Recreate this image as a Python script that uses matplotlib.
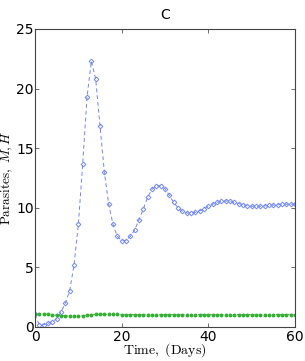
import matplotlib
matplotlib.use("Agg")
import matplotlib.pyplot as plt
import numpy as np

days = list(range(0, 61))
M_vals = [1.05, 0.15, 0.2, 0.3, 0.45, 0.7, 1.25, 2.0, 3.05, 5.2,
          8.6, 13.65, 19.3, 22.3, 20.8, 16.85, 13.0, 10.3, 8.6, 7.6,
          7.25, 7.25, 7.6, 8.15, 9.0, 9.9, 10.9, 11.55, 11.85, 11.85,
          11.6, 11.05, 10.45, 10.0, 9.7, 9.57, 9.55, 9.62, 9.75, 9.93,
          10.12, 10.3, 10.45, 10.55, 10.57, 10.53, 10.45, 10.35, 10.25, 10.17,
          10.13, 10.12, 10.13, 10.16, 10.2, 10.23, 10.26, 10.28, 10.3, 10.3, 10.3]
H_vals = [1.08, 1.12, 1.1, 1.06, 1.02, 0.98, 0.95, 0.93, 0.92, 0.92,
          0.93, 0.96, 0.99, 1.02, 1.05, 1.06, 1.06, 1.06, 1.05, 1.05,
          1.04, 1.04, 1.04, 1.04, 1.04, 1.04, 1.04, 1.04, 1.04, 1.04,
          1.04, 1.04, 1.04, 1.04, 1.04, 1.04, 1.04, 1.04, 1.04, 1.04,
          1.04, 1.04, 1.04, 1.04, 1.04, 1.04, 1.04, 1.04, 1.04, 1.04,
          1.04, 1.04, 1.04, 1.04, 1.04, 1.04, 1.04, 1.04, 1.04, 1.04, 1.04]
x_ticks = [0, 20, 40, 60]
y_ticks = [0, 5, 10, 15, 20, 25]

plt.rcParams['mathtext.fontset'] = 'cm'
fig = plt.figure(figsize=(3.05, 3.61), dpi=100)
ax = fig.add_axes([0.1148, 0.0942, 0.8525, 0.8255])

ax.plot(days, M_vals, linestyle=(0, (4, 3)), color='#6f86ff', linewidth=0.7,
        marker='D', markersize=2.4, markerfacecolor='none', markeredgecolor='#6f86ff',
        markeredgewidth=0.7)
ax.plot(days, H_vals, linestyle=(0, (2, 2)), color='#33b033', linewidth=0.7,
        marker='o', markersize=1.8, markerfacecolor='#33b033', markeredgecolor='#33b033')

ax.set_xlim(0, 60)
ax.set_ylim(0, 25)
ax.set_xticks(x_ticks)
ax.set_yticks(y_ticks)
ax.tick_params(direction='in', top=True, right=True, labelsize=10, length=3,
               width=0.6, pad=2, color='#555555')
ax.tick_params(axis='y', pad=1)
for s in ax.spines.values():
    s.set_linewidth(0.8)
    s.set_color('#444444')

ax.set_xlabel(r'$\mathrm{Time,\ (Days)}$', fontsize=10, labelpad=-1.5)
ax.set_ylabel(r'$\mathrm{Parasites,}\ M, H$', fontsize=9.5)
ax.yaxis.set_label_coords(-0.076, 0.5)
ax.set_title('C', fontsize=10, pad=7)

fig.savefig('out.png', dpi=100)
